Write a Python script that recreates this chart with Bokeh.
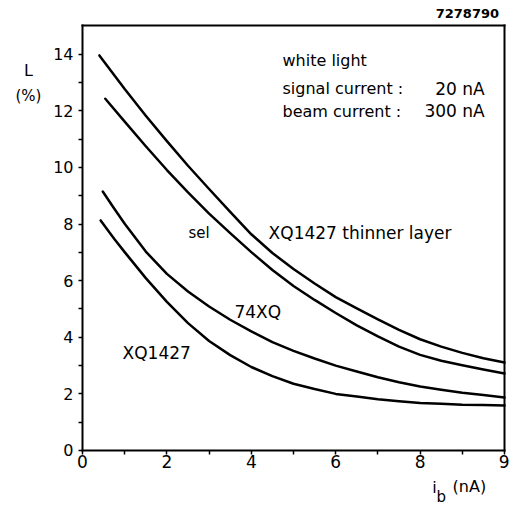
from bokeh.plotting import figure
from bokeh.models import Label, FixedTicker, Range1d, LinearAxis
from bokeh.embed import file_html
from bokeh.resources import INLINE

# ---- data ----
x_thin = [0.4, 1.0, 1.5, 2.0, 2.5, 3.0, 3.5, 4.0, 4.5, 5.0, 5.5, 6.0, 6.5, 7.0, 7.5, 8.0, 8.5, 9.0, 9.5, 10.0]
y_thin = [13.96, 12.77, 11.83, 10.93, 10.06, 9.24, 8.43, 7.64, 6.98, 6.41, 5.90, 5.42, 5.02, 4.63, 4.26, 3.93, 3.67, 3.45, 3.26, 3.11]

x_sel = [0.54, 1.0, 1.5, 2.0, 2.5, 3.0, 3.5, 4.0, 4.5, 5.0, 5.5, 6.0, 6.5, 7.0, 7.5, 8.0, 8.5, 9.0, 9.5, 10.0]
y_sel = [12.43, 11.62, 10.75, 9.91, 9.12, 8.37, 7.68, 7.01, 6.38, 5.81, 5.32, 4.86, 4.42, 4.03, 3.67, 3.38, 3.17, 3.01, 2.86, 2.72]

x_74xq = [0.48, 0.75, 1.0, 1.5, 2.0, 2.5, 3.0, 3.5, 4.0, 4.5, 5.0, 5.5, 6.0, 6.5, 7.0, 7.5, 8.0, 8.5, 9.0, 9.5, 10.0]
y_74xq = [9.15, 8.55, 8.01, 7.03, 6.24, 5.62, 5.09, 4.62, 4.21, 3.83, 3.52, 3.25, 3.00, 2.79, 2.59, 2.41, 2.26, 2.15, 2.04, 1.96, 1.87]

x_xq = [0.43, 0.75, 1.0, 1.5, 2.0, 2.5, 3.0, 3.5, 4.0, 4.5, 5.0, 5.5, 6.0, 6.5, 7.0, 7.5, 8.0, 8.5, 9.0, 9.5, 10.0]
y_xq = [8.13, 7.48, 7.01, 6.09, 5.25, 4.50, 3.87, 3.37, 2.95, 2.63, 2.36, 2.17, 2.00, 1.91, 1.81, 1.74, 1.68, 1.65, 1.62, 1.61, 1.59]

x_ticks = [0, 2, 4, 6, 8, 10]
x_tick_labels = ["0", "2", "4", "6", "8", "9"]
x_minor = [1, 3, 5, 7, 9]
y_ticks = [0, 2, 4, 6, 8, 10, 12, 14]
y_minor = [1, 3, 5, 7, 9, 11, 13]
x_bounds = (0, 10)
y_bounds = (0, 15)

FONT = "DejaVu Sans"

# the frame spans the whole page; the axes box is drawn with fixed-location axes
p = figure(width=509, height=506, output_backend="svg", toolbar_location=None,
           x_range=Range1d(-1.943, 10.118), y_range=Range1d(-1.979, 15.90),
           x_axis_location=None, y_axis_location=None)
p.min_border = 0
p.background_fill_color = "white"
p.border_fill_color = "white"
p.outline_line_color = None
p.grid.visible = False


def make_axis(fixed, bounds, ticks=(), minor=(), overrides=None, size="16px"):
    ax = LinearAxis(fixed_location=fixed, bounds=bounds,
                    ticker=FixedTicker(ticks=list(ticks), minor_ticks=list(minor)))
    ax.axis_line_color = "black"
    ax.axis_line_width = 2
    ax.axis_line_cap = "square"
    ax.major_tick_line_color = "black"
    ax.minor_tick_line_color = "black"
    ax.major_tick_line_width = 1.5
    ax.minor_tick_line_width = 1.5
    ax.major_tick_in = 0
    ax.major_tick_out = 4
    ax.minor_tick_in = 0
    ax.minor_tick_out = 4
    ax.major_label_text_font = FONT
    ax.major_label_text_font_size = size
    ax.major_label_text_color = "black"
    if overrides:
        ax.major_label_overrides = overrides
    return ax


xaxis = make_axis(y_bounds[0], x_bounds, x_ticks, x_minor,
                  {t: l for t, l in zip(x_ticks, x_tick_labels)}, "17px")
xaxis.major_label_standoff = 1
p.add_layout(xaxis, "below")

yaxis = make_axis(x_bounds[0], y_bounds, y_ticks, y_minor, None, "16px")
yaxis.major_label_standoff = 5
p.add_layout(yaxis, "left")

top_edge = make_axis(y_bounds[1], x_bounds)
p.add_layout(top_edge, "above")
right_edge = make_axis(x_bounds[1], y_bounds)
p.add_layout(right_edge, "right")

for xs, ys in ((x_thin, y_thin), (x_sel, y_sel), (x_74xq, y_74xq), (x_xq, y_xq)):
    p.line(xs, ys, line_color="black", line_width=2.5, line_join="round", line_cap="round")


def lab(x, y, t, size="16px", align="left", style="normal"):
    p.add_layout(Label(x=x, y=y, text=t, text_font=FONT, text_font_size=size,
                       text_align=align, text_baseline="middle", text_color="black",
                       text_font_style=style))


lab(-1.28, 13.43, "L", "16px", "center")
lab(-1.28, 12.54, "(%)", "15px", "center")
lab(9.12, 15.44, "7278790", "13px", "center", "bold")
lab(8.29, -1.31, "i", "16px")
lab(8.39, -1.63, "b", "15px")
lab(8.77, -1.27, "(nA)", "16px")

lab(4.74, 13.78, "white light")
lab(4.74, 12.79, "signal current :")
lab(9.53, 12.79, "20 nA", "17px", "right")
lab(4.74, 11.98, "beam current :")
lab(9.53, 11.98, "300 nA", "17px", "right")
lab(2.51, 7.67, "sel", "15px")
lab(4.41, 7.67, "XQ1427 thinner layer", "17px")
lab(3.60, 4.88, "74XQ", "17px")
lab(0.95, 3.43, "XQ1427", "17px")

open("out.html", "w").write(file_html(p, INLINE))
